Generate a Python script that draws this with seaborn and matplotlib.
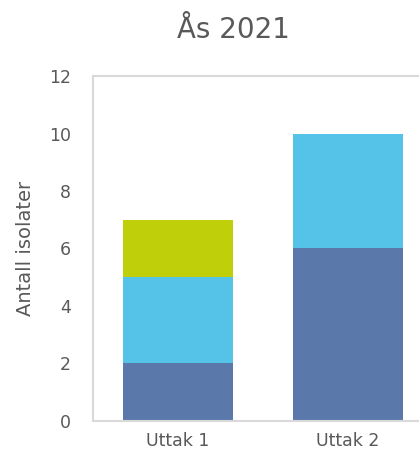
import matplotlib
matplotlib.use("Agg")
import matplotlib.pyplot as plt
import seaborn as sns
import pandas as pd
import numpy as np

categories = ["Uttak 1", "Uttak 2"]
serie1 = [2, 6]
serie2 = [3, 4]
serie3 = [2, 0]
y_ticks = [0, 2, 4, 6, 8, 10, 12]

colors = ["#5b78ab", "#55c3e8", "#bfcf0a"]
series = [serie1, serie2, serie3]

sns.set_theme(style="white")
plt.rcParams["font.family"] = ["DejaVu Sans"]

fig = plt.figure(figsize=(4.19, 4.58), dpi=100)
ax = fig.add_axes([0.222, 0.081, 0.811, 0.753])

bottom = np.zeros(len(categories))
for vals, col in zip(series, colors):
    df = pd.DataFrame({"kategori": categories, "antall": vals})
    sns.barplot(data=df, x="kategori", y="antall", color=col, bottom=bottom,
                width=0.647, ax=ax, linewidth=0, saturation=1)
    bottom = bottom + np.array(vals)

ax.set_xlim(-0.5, 1.5)
ax.set_ylim(0, 12)
ax.set_yticks(y_ticks)
ax.set_yticklabels([str(t) for t in y_ticks])
ax.tick_params(axis="y", length=0, pad=16, labelsize=12.5, labelcolor="#595959")
ax.tick_params(axis="x", length=0, pad=8, labelsize=12.5, labelcolor="#595959")
ax.set_xlabel("")
ax.set_ylabel("Antall isolater", fontsize=14, color="#595959", labelpad=10)

for side in ["left", "top", "bottom", "right"]:
    ax.spines[side].set_color("#d9d9d9")
    ax.spines[side].set_linewidth(1.5)

fig.text(0.556, 0.935, "Ås 2021", ha="center", va="center",
         fontsize=20, color="#595959")

fig.savefig("out.png", dpi=100)
